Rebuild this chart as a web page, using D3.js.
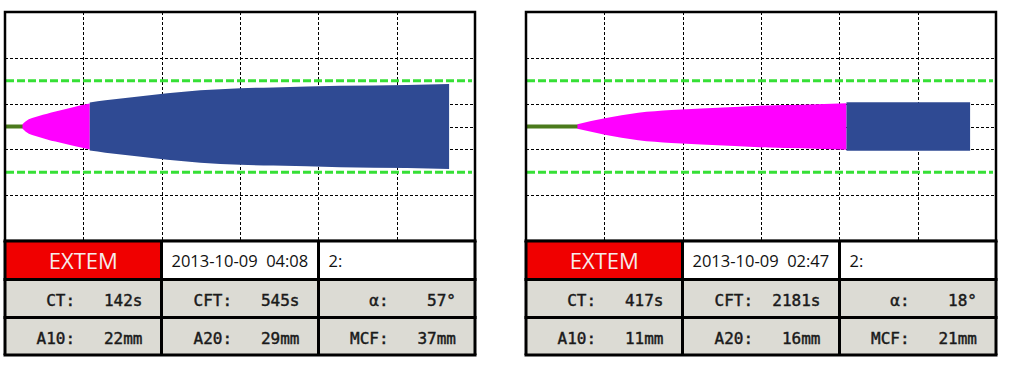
<!DOCTYPE html>
<html>
<head>
<meta charset="utf-8">
<script src="https://cdn.jsdelivr.net/npm/d3@7"></script>
<style>
  html, body { margin: 0; padding: 0; background: #fff; }
  svg { display: block; }
</style>
</head>
<body>
<svg id="chart" width="1024" height="371"></svg>
<script>
// ---------- data ----------
const testNames = ["EXTEM", "EXTEM"];
const dates = ["2013-10-09  04:08", "2013-10-09  02:47"];
const channels = ["2:", "2:"];
const CT = [142, 417];          // s
const CFT = [545, 2181];        // s
const ALPHA = [57, 18];         // degrees
const A10 = [22, 11];           // mm
const A20 = [29, 16];           // mm
const MCF = [37, 21];           // mm

// Trace (time in s, amplitude in mm)
const leftMagentaT = [142, 166, 274, 409, 544, 687];
const leftMagentaA = [2, 4.3, 9.1, 13.2, 16.7, 20];
const leftBlueT = [687, 814, 1030, 1316, 1584, 1908, 2175, 2718, 3260, 3600];
const leftBlueA = [21, 22.9, 25.6, 29.0, 31.6, 33.5, 34.1, 35.5, 36.3, 37.2];
const rightMagentaT = [417, 639, 910, 1179, 1422, 1690, 1965, 2232, 2598];
const rightMagentaA = [2, 7.2, 12, 14.4, 15.8, 17.1, 18.4, 19.1, 20.3];
const rightBlueT = [2598, 3600];
const rightBlueA = [21.2, 21.2];

const gridHalfAmp = [-30, -10, 0, 10, 30];   // half-amplitude grid (mm)
const refHalfAmp = [-20, 20];                // green reference lines
const timeMax = 3810;
const timeDivisions = 6;

const magentaT = [leftMagentaT, rightMagentaT];
const magentaA = [leftMagentaA, rightMagentaA];
const blueT = [leftBlueT, rightBlueT];
const blueA = [leftBlueA, rightBlueA];

// ---------- layout ----------
const svg = d3.select("#chart");
const panelX = [5, 526];
const panelW = 470;
const chartTop = 12, chartBottom = 241;
const rowLines = [241, 279.5, 317.5, 355];
const colFrac = [0, 156.5, 313.5, 470];

svg.append("rect").attr("width", 1024).attr("height", 371).attr("fill", "#fff");

panelX.forEach((px, p) => {
  const g = svg.append("g");
  const x = d3.scaleLinear().domain([0, timeMax]).range([px, px + panelW]);
  const y = d3.scaleLinear().domain([-50, 50]).range([chartBottom, chartTop]);

  // grid
  const vt = d3.range(1, timeDivisions).map(i => i * timeMax / timeDivisions);
  g.selectAll(".vg").data(vt).join("line")
    .attr("x1", d => Math.round(x(d)) + 0.5).attr("x2", d => Math.round(x(d)) + 0.5)
    .attr("y1", chartTop).attr("y2", chartBottom)
    .attr("stroke", "#000").attr("stroke-width", 1).attr("stroke-dasharray", "3,2");
  g.selectAll(".hg").data(gridHalfAmp).join("line")
    .attr("x1", px).attr("x2", px + panelW)
    .attr("y1", d => Math.round(y(d)) + 0.5).attr("y2", d => Math.round(y(d)) + 0.5)
    .attr("stroke", "#000").attr("stroke-width", 1).attr("stroke-dasharray", "3,2");

  // reference lines
  g.selectAll(".ref").data(refHalfAmp).join("line")
    .attr("x1", px + 1).attr("x2", px + panelW - 3)
    .attr("y1", d => y(d)).attr("y2", d => y(d))
    .attr("stroke", "#36e036").attr("stroke-width", 3).attr("stroke-dasharray", "8,3");

  // baseline before CT
  g.append("line")
    .attr("x1", x(0)).attr("x2", x(CT[p]) + 1)
    .attr("y1", y(0)).attr("y2", y(0))
    .attr("stroke", "#4b7a1c").attr("stroke-width", 4);

  const area = d3.area()
    .x(d => x(d[0]))
    .y0(d => y(-d[1] / 2))
    .y1(d => y(d[1] / 2))
    .curve(d3.curveMonotoneX);

  const mData = magentaT[p].map((t, i) => [t, magentaA[p][i]]);
  const bData = blueT[p].map((t, i) => [t, blueA[p][i]]);
  g.append("path").attr("d", area(mData)).attr("fill", "#ff00ff");
  g.append("path").attr("d", area(bData)).attr("fill", "#2f4a93");

  // chart border
  g.append("rect")
    .attr("x", px).attr("y", chartTop)
    .attr("width", panelW).attr("height", chartBottom - chartTop)
    .attr("fill", "none").attr("stroke", "#000").attr("stroke-width", 2.5);

  // table cells
  const cx = colFrac.map(c => px + c);
  const row1Fill = ["#f00000", "#fff", "#fff"];
  for (let c = 0; c < 3; c++) {
    g.append("rect").attr("x", cx[c]).attr("y", rowLines[0])
      .attr("width", cx[c + 1] - cx[c]).attr("height", rowLines[1] - rowLines[0])
      .attr("fill", row1Fill[c]);
    g.append("rect").attr("x", cx[c]).attr("y", rowLines[1])
      .attr("width", cx[c + 1] - cx[c]).attr("height", rowLines[3] - rowLines[1])
      .attr("fill", "#dcdbd4");
  }
  // table lines
  rowLines.forEach(r => {
    g.append("line").attr("x1", px - 1.5).attr("x2", px + panelW + 1.5)
      .attr("y1", r).attr("y2", r).attr("stroke", "#000").attr("stroke-width", 3);
  });
  cx.forEach(c => {
    g.append("line").attr("x1", c).attr("x2", c)
      .attr("y1", rowLines[0]).attr("y2", rowLines[3])
      .attr("stroke", "#000").attr("stroke-width", 3);
  });

  // texts row 1
  g.append("text").attr("x", (cx[0] + cx[1]) / 2).attr("y", 269)
    .attr("text-anchor", "middle")
    .attr("font-family", "'Open Sans', sans-serif").attr("font-size", 22)
    .attr("fill", "#f6eaea").text(testNames[p]);
  g.append("text").attr("x", cx[1] + 10).attr("y", 267)
    .style("white-space", "pre")
    .attr("font-family", "'Open Sans', sans-serif").attr("font-size", 16.5)
    .attr("fill", "#111").text(dates[p]);
  g.append("text").attr("x", cx[2] + 10).attr("y", 267)
    .attr("font-family", "'Open Sans', sans-serif").attr("font-size", 16.5)
    .attr("fill", "#111").text(channels[p]);

  // parameter rows
  const rows = [
    [["CT:", CT[p] + "s"], ["CFT:", CFT[p] + "s"], ["α:", ALPHA[p] + "°"]],
    [["A10:", A10[p] + "mm"], ["A20:", A20[p] + "mm"], ["MCF:", MCF[p] + "mm"]]
  ];
  const baselines = [305.5, 343.5];
  rows.forEach((row, r) => {
    row.forEach((cell, c) => {
      g.append("text").attr("x", cx[c + 1] - 19).attr("y", baselines[r])
        .attr("text-anchor", "end")
        .style("white-space", "pre")
        .attr("font-family", "'DejaVu Sans Mono', monospace").attr("font-size", 16)
        .attr("fill", "#1a1a1a")
        .attr("stroke", "#1a1a1a").attr("stroke-width", 0.45)
        .text(cell[0] + cell[1].padStart(7, " "));
    });
  });
});
</script>
</body>
</html>
